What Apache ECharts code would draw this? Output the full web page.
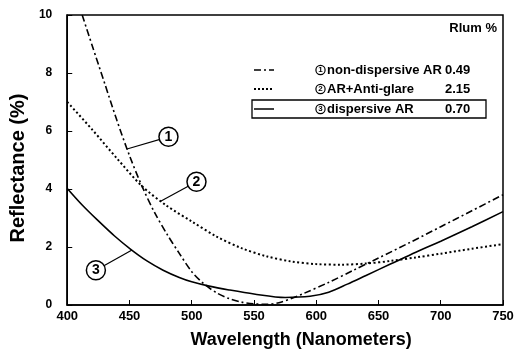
<!DOCTYPE html>
<html>
<head>
<meta charset="utf-8">
<script src="https://cdn.jsdelivr.net/npm/echarts@6/dist/echarts.min.js"></script>
<style>
html,body{margin:0;padding:0;background:#fff;}
#c{width:519px;height:354px;}
</style>
</head>
<body>
<div id="c"></div>
<script>
// ---- data (wavelength nm, reflectance %) ----
const seriesNames = ['non-dispersive AR', 'AR+Anti-glare', 'dispersive AR'];
const rlumValues = ['0.49', '2.15', '0.70'];
const xTicks = [400, 450, 500, 550, 600, 650, 700, 750];
const yTicks = [0, 2, 4, 6, 8, 10];

const nonDispersiveAR = [
  [412, 10.0], [420, 8.95], [430, 7.65], [440, 6.35], [450, 5.15], [460, 4.1],
  [470, 3.2], [480, 2.45], [490, 1.78], [500, 1.15], [510, 0.72], [520, 0.42],
  [530, 0.22], [540, 0.1], [550, 0.04], [560, 0.02], [570, 0.08], [580, 0.22],
  [590, 0.4], [610, 0.78], [630, 1.2], [650, 1.62], [675, 2.15], [700, 2.7],
  [725, 3.25], [750, 3.8]
];
const arAntiGlare = [
  [400, 7.0], [420, 6.05], [440, 5.05], [460, 4.1], [480, 3.42], [500, 2.88],
  [520, 2.36], [540, 1.96], [560, 1.68], [580, 1.5], [600, 1.41], [620, 1.39],
  [640, 1.43], [660, 1.52], [680, 1.64], [700, 1.77], [725, 1.94], [750, 2.1]
];
const dispersiveAR = [
  [400, 4.02], [412, 3.45], [425, 2.9], [438, 2.38], [451, 1.92], [464, 1.52],
  [477, 1.2], [490, 0.95], [500, 0.8], [514, 0.65], [530, 0.52], [550, 0.38],
  [575, 0.26], [595, 0.3], [610, 0.44], [625, 0.72], [640, 1.02], [660, 1.42],
  [680, 1.82], [700, 2.2], [725, 2.7], [750, 3.22]
];
// annotation callouts: [anchor on curve, circle centre]
const callout1 = [[448, 5.38], [481.3, 5.8]];
const callout2 = [[475, 3.58], [503.8, 4.25]];
const callout3 = [[452, 1.9], [423, 1.2]];

const FONT = "'Liberation Sans', Arial, sans-serif";

function callout(pts, label) {
  return {
    markLine: {
      silent: true, symbol: 'none', animation: false,
      lineStyle: { color: '#000', width: 1.2, type: 'solid' },
      label: { show: false },
      data: [[{ coord: pts[0] }, { coord: pts[1] }]]
    },
    markPoint: {
      silent: true, animation: false, z: 20,
      symbol: 'circle', symbolSize: 19,
      itemStyle: { color: '#fff', borderColor: '#000', borderWidth: 1.5 },
      label: { show: true, position: 'inside', formatter: label, color: '#000',
               fontFamily: FONT, fontWeight: 'bold', fontSize: 14 },
      data: [{ coord: pts[1] }]
    }
  };
}

const chart = echarts.init(document.getElementById('c'), null, { renderer: 'canvas' });

const legendRowsY = [70, 89, 109];
const legendDash = [[7, 3, 2, 3], [2, 2], null];
const graphics = [];
graphics.push({ type: 'text', right: 22, top: 22,
  style: { text: 'Rlum %', font: "bold 13px " + FONT, fill: '#000' } });
for (let i = 0; i < 3; i++) {
  const y = legendRowsY[i];
  graphics.push({ type: 'line', shape: { x1: 254, y1: y, x2: 274, y2: y },
    style: { stroke: '#000', lineWidth: i === 1 ? 2 : 1.5, lineDash: legendDash[i] } });
  graphics.push({ type: 'circle', shape: { cx: 320.5, cy: y, r: 4.6 },
    style: { fill: '#fff', stroke: '#000', lineWidth: 1.2 } });
  graphics.push({ type: 'text', x: 320.5, y: y,
    style: { text: String(i + 1), font: "bold 8px " + FONT, fill: '#000', align: 'center', verticalAlign: 'middle' } });
  graphics.push({ type: 'text', x: 327, y: y,
    style: { text: seriesNames[i], font: "bold 13px " + FONT, fill: '#000', verticalAlign: 'middle' } });
  graphics.push({ type: 'text', x: 445, y: y,
    style: { text: rlumValues[i], font: "bold 13px " + FONT, fill: '#000', verticalAlign: 'middle' } });
}
graphics.push({ type: 'rect', shape: { x: 252, y: 100, width: 234, height: 18 },
  style: { fill: 'none', stroke: '#000', lineWidth: 1.3 } });

chart.setOption({
  animation: false,
  backgroundColor: '#fff',
  grid: { left: 63, right: 16, top: 15, bottom: 49, show: true,
          borderColor: '#000', borderWidth: 1.5, backgroundColor: 'transparent' },
  xAxis: {
    type: 'value', min: xTicks[0], max: xTicks[xTicks.length - 1], interval: 50,
    name: 'Wavelength (Nanometers)', nameLocation: 'middle', nameGap: 26,
    nameTextStyle: { fontFamily: FONT, fontWeight: 'bold', fontSize: 18, color: '#000', padding: [0, 0, 0, 32] },
    axisLine: { lineStyle: { color: '#000', width: 1.5 } },
    axisTick: { inside: true, length: 5, lineStyle: { color: '#000', width: 1 } },
    axisLabel: { margin: 5, fontFamily: FONT, fontWeight: 'bold', fontSize: 13, color: '#000' },
    splitLine: { show: false }
  },
  yAxis: {
    type: 'value', min: yTicks[0], max: yTicks[yTicks.length - 1], interval: 2,
    name: 'Reflectance (%)', nameLocation: 'middle', nameGap: 34,
    nameTextStyle: { fontFamily: FONT, fontWeight: 'bold', fontSize: 20, color: '#000', padding: [0, 16, 0, 0] },
    axisLine: { show: true, lineStyle: { color: '#000', width: 1.5 } },
    axisTick: { show: true, inside: true, length: 5, lineStyle: { color: '#000', width: 1 } },
    axisLabel: { margin: 15, fontFamily: FONT, fontWeight: 'bold', fontSize: 12, color: '#000' },
    splitLine: { show: false }
  },
  series: [
    Object.assign({
      name: seriesNames[0], type: 'line', data: nonDispersiveAR, smooth: 0.3, showSymbol: false,
      clip: true, lineStyle: { color: '#000', width: 1.6, type: [7, 3, 2, 3] }
    }, callout(callout1, '1')),
    Object.assign({
      name: seriesNames[1], type: 'line', data: arAntiGlare, smooth: 0.3, showSymbol: false,
      clip: true, lineStyle: { color: '#000', width: 2, type: [2, 2.5] }
    }, callout(callout2, '2')),
    Object.assign({
      name: seriesNames[2], type: 'line', data: dispersiveAR, smooth: 0.3, showSymbol: false,
      clip: true, lineStyle: { color: '#000', width: 1.6, type: 'solid' }
    }, callout(callout3, '3'))
  ],
  graphic: graphics
});
</script>
</body>
</html>
